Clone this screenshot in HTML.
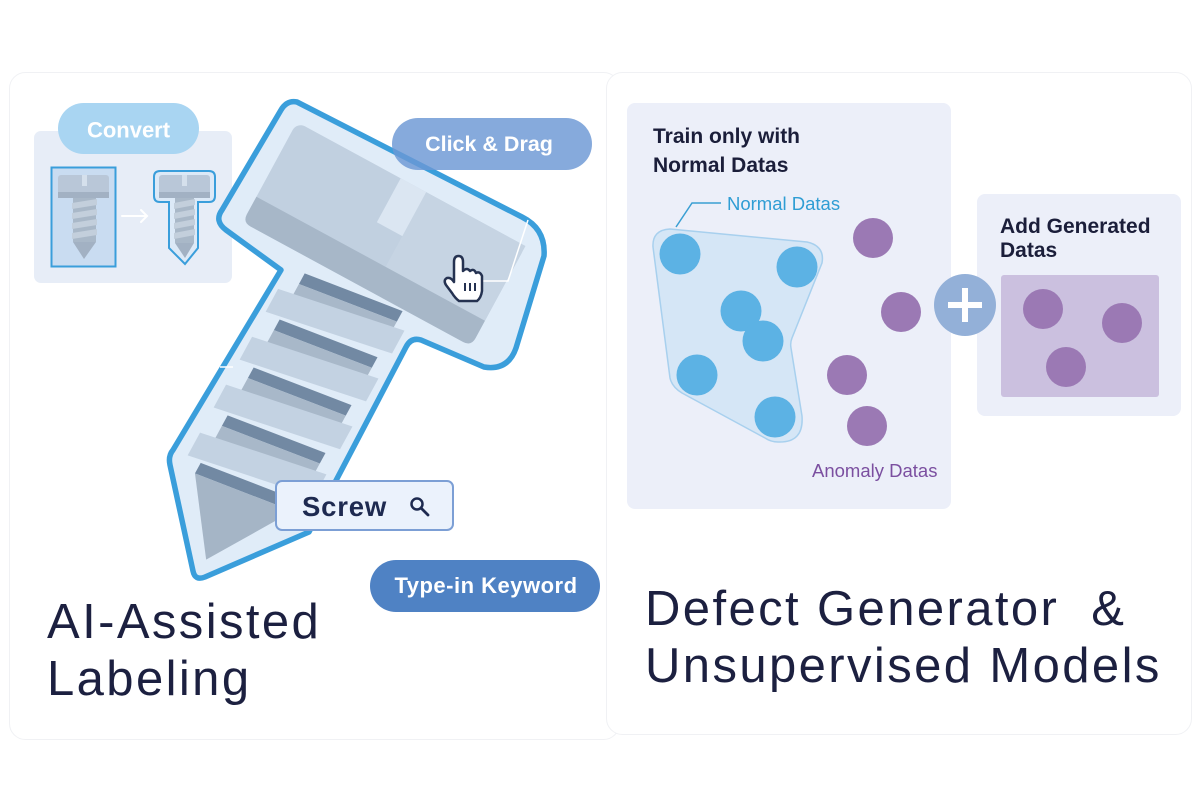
<!DOCTYPE html>
<html><head><meta charset="utf-8"><style>
html,body{margin:0;padding:0;background:#fff;}
svg{display:block;}
text{font-family:"Liberation Sans",Arial,sans-serif;}
</style></head><body>
<svg width="1200" height="800" viewBox="0 0 1200 800" xmlns="http://www.w3.org/2000/svg">
<rect width="1200" height="800" fill="#fff"/>
<!-- faint cards -->
<rect x="9.5" y="72.5" width="610" height="667" rx="16" fill="#fff" stroke="#f0f1f4"/>
<rect x="606.5" y="72.5" width="585" height="662" rx="16" fill="#fff" stroke="#f0f1f4"/>

<!-- Convert box -->
<rect x="34" y="131" width="198" height="152" rx="7" fill="#e7edf7"/>
<!-- left small screw -->
<rect x="51.5" y="167.5" width="64" height="99" fill="#c9dcf1" stroke="#3a9edb" stroke-width="2"/>
<rect x="58" y="175" width="51" height="23" rx="3" fill="#b9c7d8"/>
<rect x="58" y="192" width="51" height="6" fill="#a2b1c3"/>
<rect x="82" y="175" width="5" height="11" fill="#d5e0ec"/>
<rect x="73" y="198" width="23" height="44" fill="#a9b8c8"/>
<g fill="#c3cfdc">
<polygon points="72,203 97,199 97,205 72,209"/>
<polygon points="72,213 97,209 97,215 72,219"/>
<polygon points="72,223 97,219 97,225 72,229"/>
<polygon points="72,233 97,229 97,235 72,239"/>
</g>
<polygon points="73,242 96,242 84,259" fill="#a2b1c3"/>
<!-- arrow -->
<g stroke="#fff" stroke-width="2" fill="none" stroke-linecap="round">
<line x1="122" y1="216" x2="147" y2="216"/>
<polyline points="141,210 147,216 141,222"/>
</g>
<!-- right small screw -->
<path d="M160,171 L209,171 Q215,171 215,177 L215,196 Q215,202 209,202 L198,202 L198,248 L185,264 L169,248 L169,202 L160,202 Q154,202 154,196 L154,177 Q154,171 160,171 Z" fill="#dce9f7" stroke="#3a9edb" stroke-width="2"/>
<rect x="159" y="175" width="51" height="23" rx="3" fill="#b9c7d8"/>
<rect x="159" y="192" width="51" height="6" fill="#a2b1c3"/>
<rect x="182" y="175" width="5" height="11" fill="#d5e0ec"/>
<rect x="175" y="198" width="19" height="45" fill="#a9b8c8"/>
<g fill="#c3cfdc">
<polygon points="174,203 195,199 195,205 174,209"/>
<polygon points="174,213 195,209 195,215 174,219"/>
<polygon points="174,223 195,219 195,225 174,229"/>
<polygon points="174,233 195,229 195,235 174,239"/>
</g>
<polygon points="175,243 194,243 185,258" fill="#a2b1c3"/>
<!-- Convert pill -->
<rect x="58" y="103" width="141" height="51" rx="25.5" fill="#a9d5f2"/>
<text x="128.5" y="137.5" font-size="22" font-weight="bold" fill="#fff" text-anchor="middle">Convert</text>

<!-- big screw outline -->
<path d="M297,102 L522,217 Q546,229 544,256 L516,348 Q508,371 484,367 L421,340 Q411,337 406,347 L309,532 L205,577 Q195,581 193,571 L170,465 Q168,456 173,450 L281,270 L226,230 Q214,221 222,210 L281,110 Q287,100 297,102 Z" fill="#e0ecf8" stroke="#3a9edb" stroke-width="5.5" stroke-linejoin="round"/>

<g transform="translate(297,122) rotate(28.5)">
<!-- roots -->
<g fill="#7289a3">
<polygon points="79,129.4 183,115.8 183,127.8 79,141.4"/>
<polygon points="79,181.9 183,168.3 183,180.3 79,193.9"/>
<polygon points="79,236.4 183,222.8 183,234.8 79,248.4"/>
<polygon points="79,290.9 183,277.3 183,289.3 79,302.9"/>
<polygon points="78,345.5 182,332 182,344 78,357.5"/>
</g>
<g fill="#a8b8c9">
<polygon points="79,141.4 183,127.8 183,141.8 79,155.4"/>
<polygon points="79,193.9 183,180.3 183,194.3 79,207.9"/>
<polygon points="79,248.4 183,234.8 183,248.8 79,262.4"/>
<polygon points="79,302.9 183,289.3 183,303.3 79,316.9"/>
</g>
<polygon points="78,357.5 182,344 129,428" fill="#a5b5c6"/>
<!-- crests -->
<g fill="#c3d2e2">
<polygon points="63,155.7 194,132.1 194,158.1 63,181.7"/>
<polygon points="63,210.2 194,186.6 194,212.6 63,236.2"/>
<polygon points="63,264.7 194,241.1 194,267.1 63,290.7"/>
<polygon points="63,319.2 194,295.6 194,321.6 63,345.2"/>
</g>
<!-- head -->
<rect x="0" y="0" width="260" height="114" rx="9" fill="#c1d0e0"/>
<rect x="147" y="0" width="113" height="85" fill="#c6d4e3"/>
<path d="M0,85 L260,85 L260,105 Q260,114 251,114 L9,114 Q0,114 0,105 Z" fill="#a7b7c8"/>
<rect x="118" y="0" width="29" height="50" fill="#dbe6f2"/>
</g>

<!-- white lines -->
<polyline points="483,281 508,281 528,220" fill="none" stroke="#fff" stroke-width="1.5"/>
<line x1="220" y1="367" x2="233" y2="367" stroke="#fff" stroke-width="1.5"/>

<!-- cursor -->
<path d="M454,262 Q454,256 458.5,256 Q463,256 463,262 L463,271 Q467,267 470,271 Q474,268 476,273 Q480,271 482,276 L482,291 Q481,298 477,301 L459,301 Q455,298 452,293 L446,285 Q443,280 447,278 Q451,277 454,282 Z" fill="#fff" stroke="#253251" stroke-width="2.5" stroke-linejoin="round"/>
<g stroke="#253251" stroke-width="2">
<line x1="465" y1="283" x2="465" y2="291"/>
<line x1="470" y1="283" x2="470" y2="291"/>
<line x1="475" y1="283" x2="475" y2="291"/>
</g>

<!-- Click & Drag pill -->
<rect x="392" y="118" width="200" height="52" rx="26" fill="#6b97d4" fill-opacity="0.82"/>
<text x="489" y="151" font-size="21.5" font-weight="bold" fill="#fff" text-anchor="middle">Click &amp; Drag</text>

<!-- Screw search box -->
<rect x="276" y="481" width="177" height="49" rx="6" fill="#ebf2fc" stroke="#7c9fd5" stroke-width="2"/>
<text x="302" y="516" font-size="27.5" font-weight="bold" fill="#1e2a50" letter-spacing="0.8">Screw</text>
<circle cx="417" cy="504" r="5.5" fill="none" stroke="#1e2a50" stroke-width="2.5"/>
<line x1="421" y1="508" x2="428" y2="515" stroke="#1e2a50" stroke-width="2.8" stroke-linecap="round"/>

<!-- Type-in Keyword pill -->
<rect x="370" y="560" width="230" height="52" rx="26" fill="#4f82c4"/>
<text x="486" y="593" font-size="22" font-weight="bold" fill="#fff" text-anchor="middle" letter-spacing="0.5">Type-in Keyword</text>

<!-- left title -->
<g font-size="49" fill="#1c2040" letter-spacing="2.4">
<text x="47" y="638">AI-Assisted</text>
<text x="47" y="695">Labeling</text>
</g>

<!-- right panel -->
<rect x="627" y="103" width="324" height="406" rx="8" fill="#eceff9"/>
<text x="653" y="143" font-size="21" font-weight="bold" fill="#1b1e3a">Train only with</text>
<text x="653" y="172" font-size="21" font-weight="bold" fill="#1b1e3a">Normal Datas</text>
<polyline points="721,203 692,203 676,227" fill="none" stroke="#3a9fd3" stroke-width="1.5"/>
<text x="727" y="210" font-size="18.5" fill="#2f9dd4">Normal Datas</text>
<path d="M653,247 Q652,230 670,229 L807,242 Q825,246 822,263 L792,338 Q790,343 791,348 L802,416 Q804,443 778,442 Q771,442 765,438 L682,393 Q672,387 670,378 Z" fill="#d5e6f6" stroke="#a8d0ee" stroke-width="1.5" stroke-linejoin="round"/>
<g fill="#5cb2e4">
<circle cx="680" cy="254" r="20.5"/>
<circle cx="797" cy="267" r="20.5"/>
<circle cx="741" cy="311" r="20.5"/>
<circle cx="763" cy="341" r="20.5"/>
<circle cx="697" cy="375" r="20.5"/>
<circle cx="775" cy="417" r="20.5"/>
</g>
<g fill="#9b79b4">
<circle cx="873" cy="238" r="20"/>
<circle cx="901" cy="312" r="20"/>
<circle cx="847" cy="375" r="20"/>
<circle cx="867" cy="426" r="20"/>
</g>
<text x="812" y="477" font-size="18.5" fill="#7b4fa0">Anomaly Datas</text>

<rect x="977" y="194" width="204" height="222" rx="8" fill="#eceff9"/>
<text x="1000" y="233" font-size="21" font-weight="bold" fill="#1b1e3a">Add Generated</text>
<text x="1000" y="257" font-size="21" font-weight="bold" fill="#1b1e3a">Datas</text>
<rect x="1001" y="275" width="158" height="122" rx="3" fill="#cbc0df"/>
<g fill="#9b79b4">
<circle cx="1043" cy="309" r="20"/>
<circle cx="1122" cy="323" r="20"/>
<circle cx="1066" cy="367" r="20"/>
</g>
<circle cx="965" cy="305" r="31" fill="#93b0d8"/>
<rect x="948" y="302" width="34" height="6" fill="#fff"/>
<rect x="962" y="288" width="6" height="34" fill="#fff"/>

<!-- right title -->
<g font-size="49" fill="#1c2040" letter-spacing="2.4">
<text x="645" y="625">Defect Generator &#160;&amp;</text>
<text x="645" y="682">Unsupervised Models</text>
</g>
</svg>
</body></html>
